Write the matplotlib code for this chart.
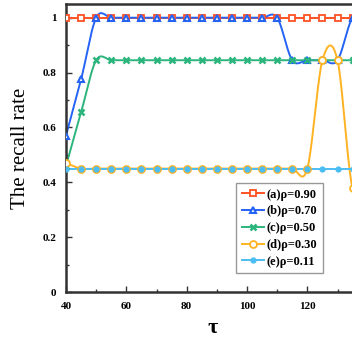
import numpy as np
import matplotlib.pyplot as plt
from matplotlib.ticker import MultipleLocator, FuncFormatter

tau = [40, 45, 50, 55, 60, 65, 70, 75, 80, 85, 90, 95, 100, 105, 110, 115, 120, 125, 130, 135, 140]

rho_90 = [1.0] * 21
rho_70 = [0.57, 0.775, 1.0, 1.0, 1.0, 1.0, 1.0, 1.0, 1.0, 1.0, 1.0, 1.0, 1.0, 1.0, 1.0,
          0.845, 0.845, 0.845, 0.845, 1.0, 1.0]
rho_50 = [0.46, 0.655, 0.845, 0.845, 0.845, 0.845, 0.845, 0.845, 0.845, 0.845, 0.845,
          0.845, 0.845, 0.845, 0.845, 0.845, 0.845, 0.845, 0.845, 0.845, 0.845]
rho_30 = [0.47, 0.45, 0.45, 0.45, 0.45, 0.45, 0.45, 0.45, 0.45, 0.45, 0.45, 0.45, 0.45,
          0.45, 0.45, 0.45, 0.45, 0.845, 0.845, 0.38, 0.45]
rho_11 = [0.45] * 21

labels = ["(a)ρ=0.90", "(b)ρ=0.70", "(c)ρ=0.50", "(d)ρ=0.30", "(e)ρ=0.11"]
colors = ["#ff5224", "#2563f5", "#2bb57c", "#ffb222", "#4cbdf2"]


# smooth line through the points (Catmull-Rom), markers stay on the data
def smooth(x, y, n=20):
    x = np.asarray(x, float)
    y = np.asarray(y, float)
    m = np.zeros(len(y))
    m[1:-1] = (y[2:] - y[:-2]) / (x[2:] - x[:-2])
    m[0] = (y[1] - y[0]) / (x[1] - x[0])
    m[-1] = (y[-1] - y[-2]) / (x[-1] - x[-2])
    xs, ys = [], []
    for i in range(len(x) - 1):
        h = x[i + 1] - x[i]
        t = np.linspace(0, 1, n, endpoint=False)
        h00 = 2 * t**3 - 3 * t**2 + 1
        h10 = t**3 - 2 * t**2 + t
        h01 = -2 * t**3 + 3 * t**2
        h11 = t**3 - t**2
        xs.extend(x[i] + t * h)
        ys.extend(h00 * y[i] + h10 * h * m[i] + h01 * y[i + 1] + h11 * h * m[i + 1])
    xs.append(x[-1])
    ys.append(y[-1])
    return np.array(xs), np.array(ys)


plt.rcParams['font.family'] = ['Liberation Serif', 'DejaVu Serif']

fig = plt.figure(figsize=(3.52, 3.43), dpi=100)
ax = fig.add_axes([66 / 352, 51 / 343, 362 / 352, 288 / 343])

series = [rho_90, rho_70, rho_50, rho_30, rho_11]
styles = [
    dict(marker="s", ms=4.5, mfc="white", mew=1.3),
    dict(marker="^", ms=5, mfc="white", mew=1.5),
    dict(marker="x", ms=4, mew=1.8),
    dict(marker="o", ms=5, mfc="white", mew=1.3),
    dict(marker="o", ms=3.5, mew=1.0),
]
handles = []
for k, (y, c, st, lab) in enumerate(zip(series, colors, styles, labels)):
    xs, ys = smooth(tau, y)
    ax.plot(xs, ys, color=c, lw=1.4, zorder=2 + k * 0.01)
    ax.plot(tau, y, ls="none", color=c, mec=c, zorder=3 + k * 0.01, **st)
    h, = ax.plot([], [], color=c, mec=c, lw=1.4, label=lab, **st)
    handles.append(h)

ax.set_xlim(40, 160)
ax.set_ylim(0, 1.05)
ax.xaxis.set_major_locator(MultipleLocator(20))
ax.xaxis.set_minor_locator(MultipleLocator(10))
ax.xaxis.set_major_formatter(FuncFormatter(lambda v, p: "%d" % v if v <= 120 else ""))
ax.yaxis.set_minor_locator(MultipleLocator(0.1))
ax.set_yticks([0, 0.2, 0.4, 0.6, 0.8, 1.0])
ax.set_yticklabels(["0", "0.2", "0.4", "0.6", "0.8", "1"])
ax.tick_params(which="both", direction="in", color="#333333", width=1.0)
ax.tick_params(which="major", length=4, labelsize=8, pad=7)
ax.tick_params(which="minor", length=2.5)
for t in ax.get_xticklabels() + ax.get_yticklabels():
    t.set_fontweight("bold")
for s in ax.spines.values():
    s.set_color("#333333")
    s.set_linewidth(1.8)

ax.set_ylabel("The recall rate", fontsize=15, labelpad=9)
fig.text(213 / 352, 1 - 328 / 343, "τ", fontsize=16, fontweight="bold",
         ha="center", va="center")

leg = ax.legend(handles=handles, loc="upper left", bbox_to_anchor=(236 / 352, 1 - 183 / 343),
                bbox_transform=fig.transFigure, fancybox=False, edgecolor="#999999",
                prop=dict(weight="bold", size=9), handlelength=1.8, handletextpad=0.2,
                labelspacing=0.38, borderpad=0.45, borderaxespad=0, framealpha=1)
leg.get_frame().set_linewidth(1.0)

fig.savefig("out.png", dpi=100)
